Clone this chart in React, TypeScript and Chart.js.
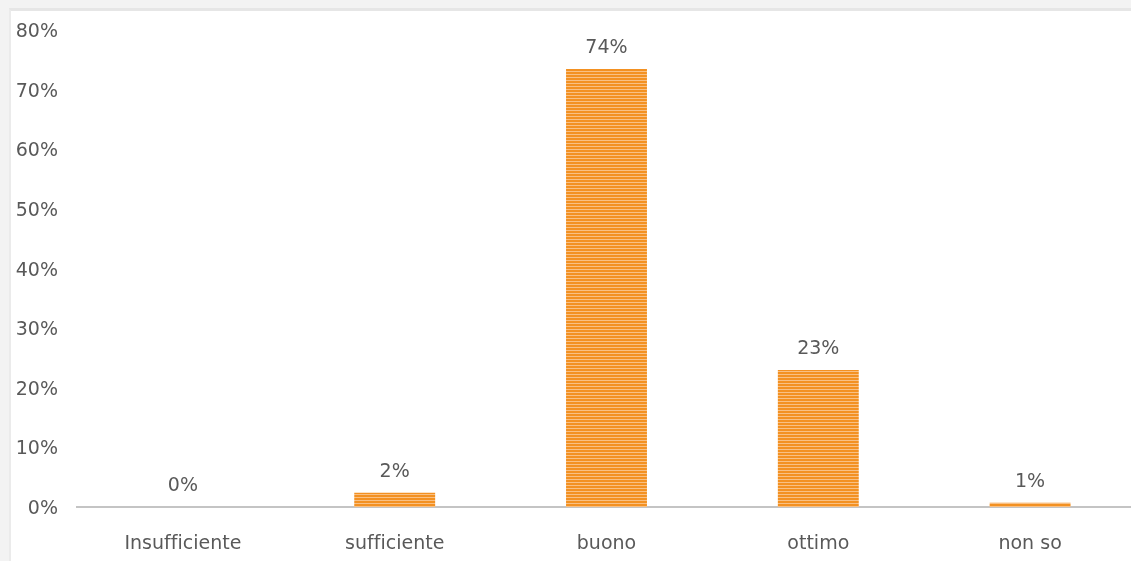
import React, { useEffect, useRef } from "react";
import { Chart, registerables } from "chart.js";

Chart.register(...registerables);

const categories = ["Insufficiente", "sufficiente", "buono", "ottimo", "non so"];
const values = [0, 2.4, 73.5, 23, 0.7];
const yTicks = [0, 10, 20, 30, 40, 50, 60, 70, 80];

const FONT = "'DejaVu Sans', sans-serif";
const TEXT = "#595959";

function makeStripePattern(): CanvasPattern | string {
  const c = document.createElement("canvas");
  c.width = 4;
  c.height = 3;
  const g = c.getContext("2d");
  if (!g) return "#F39122";
  g.fillStyle = "#F39122";
  g.fillRect(0, 0, 4, 3);
  g.fillStyle = "#F9C083";
  g.fillRect(0, 2, 4, 1);
  const p = g.createPattern(c, "repeat");
  return p || "#F39122";
}

const noLigaturePlugin = {
  id: "noLigatures",
  beforeDraw(chart: any) {
    try {
      (chart.ctx as any).letterSpacing = "0.01px";
    } catch (e) {
      /* ignore */
    }
  },
};

const dataLabelPlugin = {
  id: "dataLabels",
  afterDatasetsDraw(chart: any) {
    const ctx = chart.ctx;
    const meta = chart.getDatasetMeta(0);
    ctx.save();
    ctx.font = `19px ${FONT}`;
    ctx.fillStyle = TEXT;
    ctx.textAlign = "center";
    ctx.textBaseline = "alphabetic";
    meta.data.forEach((bar: any, i: number) => {
      const v = values[i];
      ctx.fillText(`${Math.round(v)}%`, bar.x, bar.y - 16);
    });
    ctx.restore();
  },
};

export default function App() {
  const ref = useRef<HTMLCanvasElement | null>(null);

  useEffect(() => {
    if (!ref.current) return;
    const chart = new Chart(ref.current, {
      type: "bar",
      data: {
        labels: categories,
        datasets: [
          {
            data: values,
            backgroundColor: makeStripePattern() as any,
            borderWidth: 0,
            barPercentage: 0.382,
            categoryPercentage: 1,
          },
        ],
      },
      options: {
        responsive: false,
        animation: false,
        devicePixelRatio: 1,
        layout: { padding: { top: 30, right: 4, left: 0, bottom: 0 } },
        plugins: {
          legend: { display: false },
          tooltip: { enabled: false },
        },
        scales: {
          x: {
            grid: { display: false, drawTicks: false },
            border: { display: true, color: "#c4c4c4", width: 2 },
            ticks: {
              color: TEXT,
              font: { family: FONT, size: 19 },
              padding: 26,
              maxRotation: 0,
            },
            afterFit(scale: any) {
              scale.height = 54;
            },
          },
          y: {
            min: 0,
            max: 80,
            grid: { display: false, drawTicks: false },
            border: { display: false },
            afterBuildTicks(scale: any) {
              scale.ticks = yTicks.map((v) => ({ value: v }));
            },
            ticks: {
              color: TEXT,
              font: { family: FONT, size: 19 },
              padding: 19,
              labelOffset: 2,
              callback: (v: any) => `${v}%`,
            },
            afterFit(scale: any) {
              scale.width = 77;
            },
          },
        },
      },
      plugins: [noLigaturePlugin, dataLabelPlugin],
    });
    return () => chart.destroy();
  }, []);

  return (
    <div
      style={{
        position: "fixed",
        left: 0,
        top: 0,
        width: 1131,
        height: 561,
        overflow: "hidden",
        background: "#f3f3f3",
      }}
    >
      <div
        style={{
          position: "absolute",
          left: 9,
          top: 8,
          right: 0,
          bottom: 0,
          background: "#ffffff",
          borderTop: "3px solid #e6e6e6",
          borderLeft: "2px solid #ebebeb",
        }}
      />
      <canvas
        ref={ref}
        width={1140}
        height={561}
        style={{ position: "absolute", left: 0, top: 0, width: 1140, height: 561 }}
      />
    </div>
  );
}
